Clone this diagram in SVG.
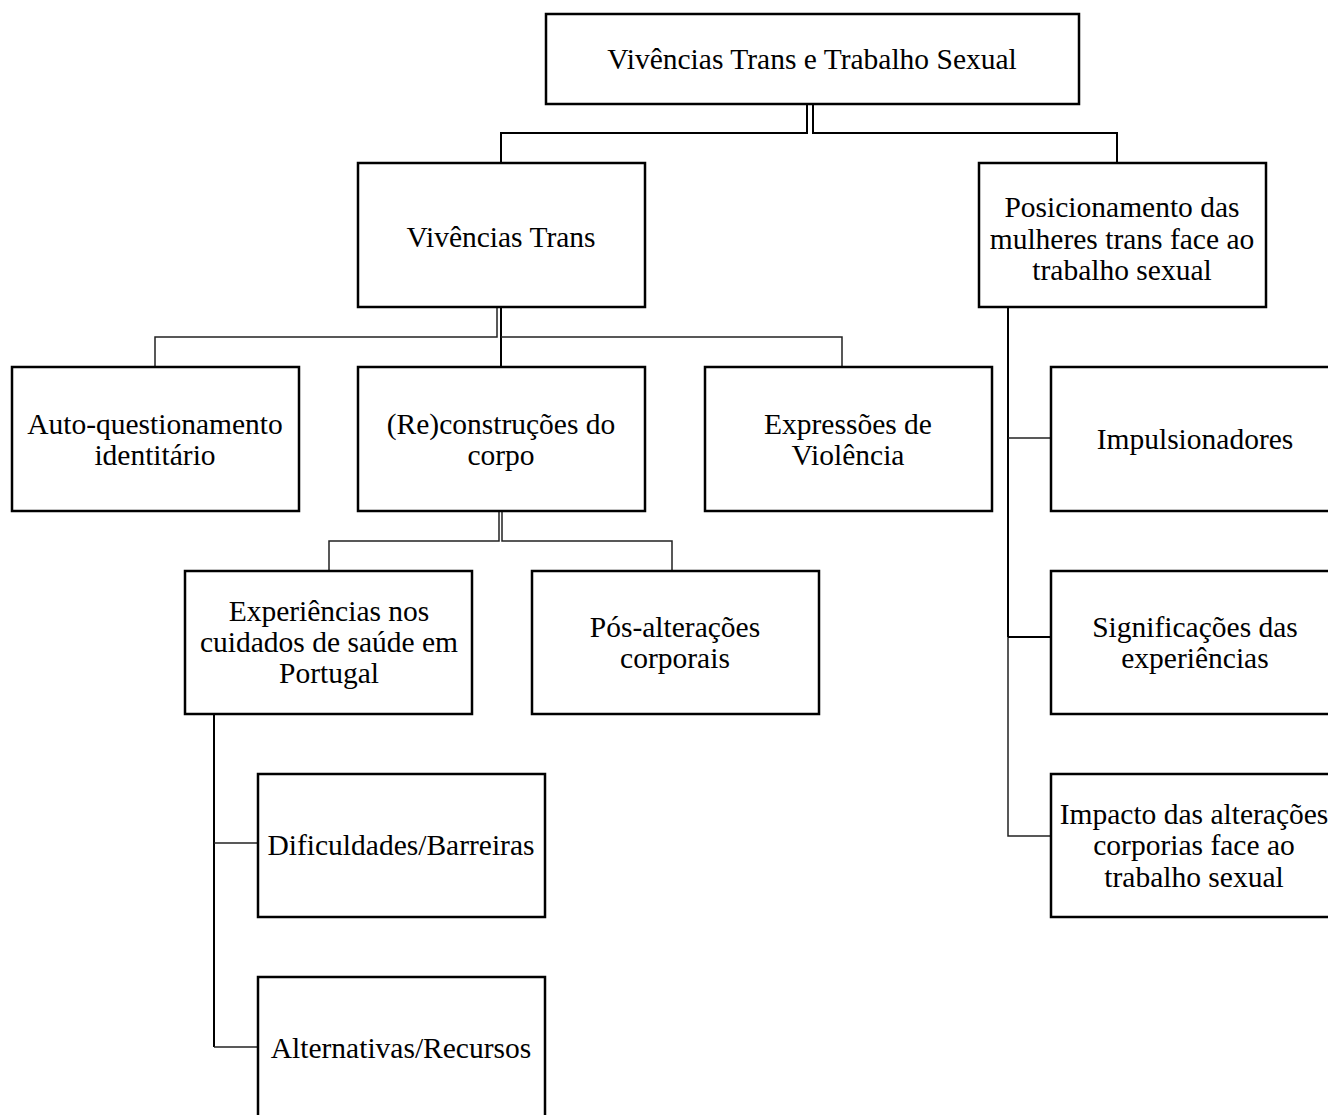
<svg xmlns="http://www.w3.org/2000/svg" width="1328" height="1115" viewBox="0 0 1328 1115">
<style>
.box{fill:#fff;stroke:#000;stroke-width:2.5}
.c{fill:none;stroke:#000;stroke-width:2}
.c2{fill:none;stroke:#222;stroke-width:1.5}
</style>
<rect width="1328" height="1115" fill="#fff"/>
<g id="connectors">
<path class="c" d="M807,104 V133 H501 V163"/>
<path class="c" d="M813,104 V133 H1117 V163"/>
<path class="c2" d="M497,307 V337 H155 V367"/>
<path class="c" d="M501,307 V367"/>
<path class="c2" d="M501,337 H842 V367"/>
<path class="c2" d="M499,511 V541 H329 V571"/>
<path class="c2" d="M502,511 V541 H672 V571"/>
<path class="c" d="M214,714 V1047"/>
<path class="c2" d="M214,843 H258"/>
<path class="c2" d="M214,1047 H258"/>
<path class="c" d="M1008,307 V637"/>
<path class="c2" d="M1008,637 V836 H1051"/>
<path class="c2" d="M1008,438 H1051"/>
<path class="c" d="M1008,637 H1051"/>
</g>
<g font-family="Liberation Serif, Times New Roman, serif" font-size="29.5" text-anchor="middle" fill="#000">
<g id="n-root"><rect class="box" x="546" y="14" width="533" height="90"/><text x="812" y="69">Vivências Trans e Trabalho Sexual</text></g>
<g id="n-vt"><rect class="box" x="358" y="163" width="287" height="144"/><text x="501" y="247">Vivências Trans</text></g>
<g id="n-pos"><rect class="box" x="979" y="163" width="287" height="144"/><text x="1122" y="217">Posicionamento das</text><text x="1122" y="249">mulheres trans face ao</text><text x="1122" y="280">trabalho sexual</text></g>
<g id="n-auto"><rect class="box" x="12" y="367" width="287" height="144"/><text x="155" y="434">Auto-questionamento</text><text x="155" y="465">identitário</text></g>
<g id="n-rec"><rect class="box" x="358" y="367" width="287" height="144"/><text x="501" y="434">(Re)construções do</text><text x="501" y="465">corpo</text></g>
<g id="n-exp"><rect class="box" x="705" y="367" width="287" height="144"/><text x="848" y="434">Expressões de</text><text x="848" y="465">Violência</text></g>
<g id="n-imp"><rect class="box" x="1051" y="367" width="287" height="144"/><text x="1195" y="449">Impulsionadores</text></g>
<g id="n-cuid"><rect class="box" x="185" y="571" width="287" height="143"/><text x="329" y="621">Experiências nos</text><text x="329" y="652">cuidados de saúde em</text><text x="329" y="683">Portugal</text></g>
<g id="n-posalt"><rect class="box" x="532" y="571" width="287" height="143"/><text x="675" y="637">Pós-alterações</text><text x="675" y="668">corporais</text></g>
<g id="n-sig"><rect class="box" x="1051" y="571" width="287" height="143"/><text x="1195" y="637">Significações das</text><text x="1195" y="668">experiências</text></g>
<g id="n-dif"><rect class="box" x="258" y="774" width="287" height="143"/><text x="401" y="855">Dificuldades/Barreiras</text></g>
<g id="n-impacto"><rect class="box" x="1051" y="774" width="287" height="143"/><text x="1194" y="824">Impacto das alterações</text><text x="1194" y="855">corporias face ao</text><text x="1194" y="887">trabalho sexual</text></g>
<g id="n-alt"><rect class="box" x="258" y="977" width="287" height="143"/><text x="401" y="1058">Alternativas/Recursos</text></g>
</g>
</svg>
